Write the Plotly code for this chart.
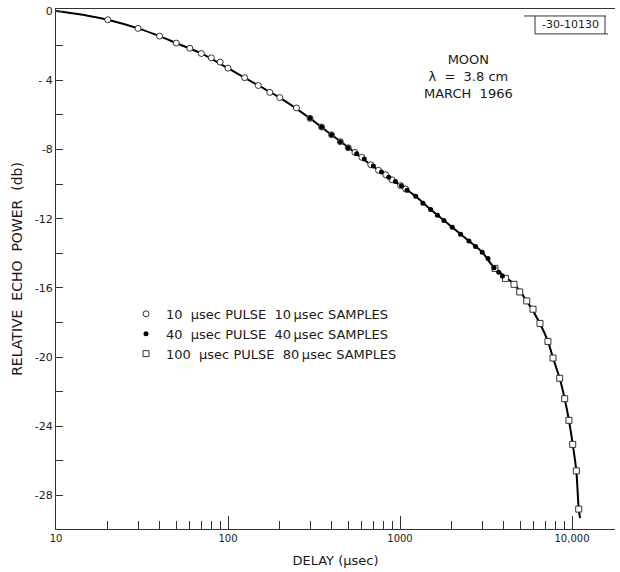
import plotly.graph_objects as go

# Smooth fitted echo-power curve (delay in microseconds, power in dB)
curve_delay = [10, 15, 20, 30, 40, 50, 70, 100, 150, 200, 300, 400, 547, 676, 827,
               1009, 1234, 1507, 2012, 2516, 3008, 3524, 4603, 5454, 6515, 7246,
               7757, 8480, 9066, 9600, 10100, 10600, 10940, 11140]
curve_db = [0, -0.25, -0.5, -1.0, -1.45, -1.85, -2.45, -3.3, -4.3, -5.0, -6.2, -7.15,
            -8.17, -8.88, -9.46, -10.09, -10.7, -11.47, -12.49, -13.29, -13.93, -14.83,
            -15.79, -16.75, -18.05, -19.09, -20.05, -21.22, -22.4, -23.65, -25.04,
            -26.57, -28.78, -29.3]

# 10 usec pulse, 10 usec samples
p10_delay = [20, 30, 40, 50, 60, 70, 80, 90, 100, 125, 150, 175, 200, 250, 300, 350,
             400, 450, 500, 547, 600, 676, 750, 827, 900, 1009, 1079]
p10_db = [-0.5, -1.0, -1.45, -1.85, -2.15, -2.45, -2.7, -2.95, -3.3, -3.85, -4.3, -4.7,
          -5.0, -5.6, -6.2, -6.7, -7.15, -7.55, -7.9, -8.17, -8.45, -8.88, -9.2, -9.46,
          -9.75, -10.09, -10.28]

# 40 usec pulse, 40 usec samples
p40_delay = [300, 350, 400, 450, 500, 560, 620, 700, 780, 860, 940, 1020, 1100, 1234,
             1360, 1507, 1650, 1800, 2012, 2250, 2516, 2750, 3008, 3250, 3524, 3750, 3939]
p40_db = [-6.2, -6.7, -7.15, -7.55, -7.9, -8.25, -8.55, -8.95, -9.3, -9.6, -9.85, -10.1,
          -10.35, -10.7, -11.1, -11.47, -11.8, -12.1, -12.49, -12.9, -13.29, -13.6,
          -13.93, -14.3, -14.83, -15.1, -15.31]

# 100 usec pulse, 80 usec samples
p100_delay = [3565, 4100, 4603, 4966, 5454, 5934, 6515, 7246, 7757, 8480, 9066, 9600,
              10100, 10600, 10940]
p100_db = [-14.87, -15.45, -15.79, -16.23, -16.75, -17.23, -18.05, -19.09, -20.05,
           -21.22, -22.4, -23.65, -25.04, -26.57, -28.78]

x_tickvals = [10, 100, 1000, 10000]
x_ticktext = ["10", "100", "1000", "10,000"]
x_minor = [m * d for d in (10, 100, 1000) for m in range(2, 10)]
y_tickvals = [0, -4, -8, -12, -16, -20, -24, -28]
y_ticktext = ["0", "- 4", "-8", "-12", "-16", "-20", "-24", "-28"]

FONT = "DejaVu Sans"
INK = "#1a1a1a"
EDGE = "#333"
SP2 = "\u00a0 "
THIN = "\u2009"

# plot area in pixels: left 56, right 615, top 7, bottom 529
PL, PR, PT, PB = 56, 615, 7, 529


def px(x):
    return (x - PL) / (PR - PL)


def py(y):
    return 1 - (y - PT) / (PB - PT)


def legend_label(pulse, sample):
    return f"{pulse}{SP2}\u03bcsec PULSE{SP2}{sample}{THIN}\u03bcsec SAMPLES"


fig = go.Figure()

fig.add_trace(go.Scatter(
    x=curve_delay, y=curve_db, mode="lines",
    line=dict(color="black", width=2, shape="spline", smoothing=0.6),
    showlegend=False, hoverinfo="skip"))

fig.add_trace(go.Scatter(
    x=p10_delay, y=p10_db, mode="markers", legendrank=1,
    name=legend_label(10, 10),
    marker=dict(symbol="circle", size=6, color="white",
                line=dict(color=EDGE, width=1))))

fig.add_trace(go.Scatter(
    x=p100_delay, y=p100_db, mode="markers", legendrank=3,
    name=legend_label(100, 80),
    marker=dict(symbol="square", size=6, color="white",
                line=dict(color=EDGE, width=1))))

fig.add_trace(go.Scatter(
    x=p40_delay, y=p40_db, mode="markers", legendrank=2,
    name=legend_label(40, 40),
    marker=dict(symbol="circle", size=5, color="black")))

# Drawing number box in the upper right corner
box = dict(type="line", xref="paper", yref="paper",
           line=dict(color=EDGE, width=1))
fig.add_shape(box, x0=px(524), x1=px(606), y0=py(14), y1=py(14))
fig.add_shape(box, x0=px(535), x1=px(535), y0=py(14), y1=py(32))
fig.add_shape(box, x0=px(605), x1=px(605), y0=py(14), y1=py(32))
fig.add_shape(box, x0=px(535), x1=px(608), y0=py(32), y1=py(32))
fig.add_annotation(xref="paper", yref="paper", x=px(570), y=py(23),
                   xanchor="center", yanchor="middle",
                   text="-30-10130", showarrow=False,
                   font=dict(family=FONT, size=11, color=INK))

fig.add_annotation(xref="paper", yref="paper", x=px(468), y=py(75),
                   xanchor="center", yanchor="middle",
                   text="MOON<br>\u03bb  =  3.8 cm<br>MARCH  1966",
                   showarrow=False, align="center",
                   font=dict(family=FONT, size=13, color=INK))

fig.update_layout(
    width=620, height=572,
    margin=dict(l=PL, r=620 - PR, t=PT, b=572 - PB),
    paper_bgcolor="white", plot_bgcolor="white",
    font=dict(family=FONT, size=10, color=INK),
    legend=dict(x=px(126), y=py(298), xanchor="left", yanchor="top",
                traceorder="normal", bgcolor="rgba(0,0,0,0)",
                font=dict(family=FONT, size=13, color=INK),
                itemsizing="trace"),
    xaxis=dict(
        type="log", range=[1, 4.25],
        tickvals=x_tickvals, ticktext=x_ticktext,
        ticks="inside", ticklen=13, tickcolor=EDGE, tickwidth=1,
        minor=dict(tickvals=x_minor, ticks="inside", ticklen=8,
                   tickcolor=EDGE, tickwidth=1, showgrid=False),
        showgrid=False, zeroline=False,
        showline=True, linecolor=EDGE, linewidth=1, mirror=True,
        title=dict(text="DELAY (\u03bcsec)", font=dict(family=FONT, size=13),
                   standoff=12),
    ),
    yaxis=dict(
        range=[-29.93, 0.12],
        tickvals=y_tickvals, ticktext=y_ticktext,
        tickfont=dict(size=11),
        ticks="inside", ticklen=7, tickcolor=EDGE, tickwidth=1,
        minor=dict(dtick=2, tick0=0, ticks="inside", ticklen=7,
                   tickcolor=EDGE, tickwidth=1, showgrid=False),
        showgrid=False, zeroline=False,
        showline=True, linecolor=EDGE, linewidth=1,
        title=dict(text="RELATIVE\u00a0 ECHO\u00a0 POWER\u00a0 (db)",
                   font=dict(family=FONT, size=14), standoff=8),
    ),
)

fig.write_html("out.html")
